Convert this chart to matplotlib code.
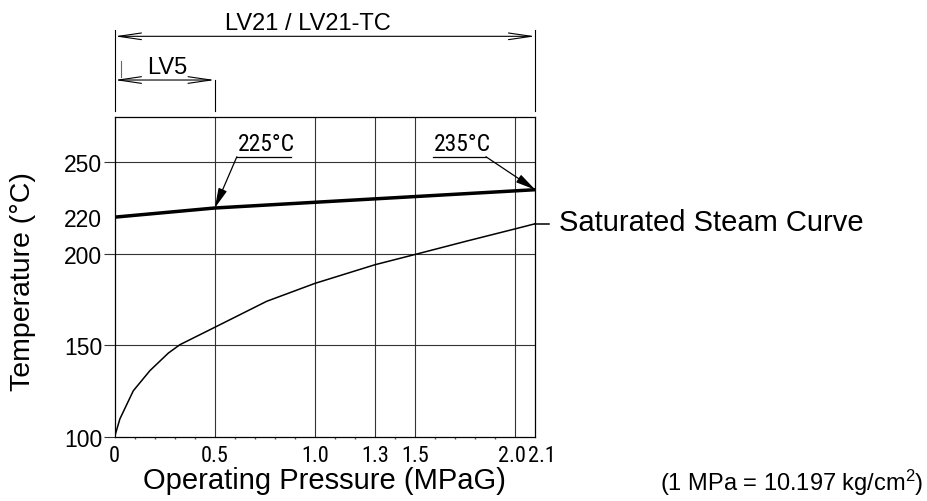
import matplotlib.pyplot as plt
from matplotlib import font_manager
from matplotlib.font_manager import FontProperties
from matplotlib.ticker import MultipleLocator
from matplotlib.transforms import ScaledTranslation

plt.rcParams['font.family'] = ['Liberation Sans', 'DejaVu Sans']
plt.rcParams['mathtext.fontset'] = 'custom'
plt.rcParams['mathtext.rm'] = 'Liberation Sans'
plt.rcParams['mathtext.it'] = 'Liberation Sans'

# saturated steam curve (MPaG, degC)
steam_p = [0, 0.026, 0.093, 0.176, 0.268, 0.326, 0.5, 0.759, 1.0, 1.3, 1.5, 1.75, 2.0, 2.1]
steam_t = [100, 109.7, 125.1, 136.1, 145.7, 150.3, 159.8, 174, 183.8, 194, 199.6, 206.7, 213.6, 216.4]

# max temperature line
limit_p = [0, 0.5, 2.1]
limit_t = [220, 225, 235]

x_ticks = [0, 0.5, 1.0, 1.3, 1.5, 2.0, 2.1]
x_labels = ['0', '0.5', '1.0', '1.3', '1.5', '2.0', '2.1']
y_ticks = [100, 150, 200, 220, 250]
y_grid = [150, 200, 250]

lv5_max = 0.5
lv21_max = 2.1


# look for a narrow font for the CAD-style numbers
def find_narrow():
    fonts = [f for f in font_manager.fontManager.ttflist
             if f.style == 'normal' and f.weight in (400, 'normal', 'regular')]
    for want in ['Liberation Sans Narrow', 'Roboto Condensed', 'Open Sans Condensed',
                 'Noto Sans Condensed', 'DejaVu Sans Condensed']:
        for f in fonts:
            if f.name == want:
                return f.fname
    for f in fonts:
        if 'Condensed' in f.name or 'Narrow' in f.name:
            return f.fname
    for f in fonts:
        if f.stretch == 'condensed' and f.name in ('Noto Sans', 'DejaVu Sans', 'Roboto', 'Open Sans'):
            return f.fname
    return None


narrow_file = find_narrow()


def narrow(size):
    if narrow_file:
        return FontProperties(fname=narrow_file, size=size)
    return FontProperties(family='Liberation Sans', size=size * 0.8)


fig = plt.figure(figsize=(9.27, 5.02), dpi=100)
ax = fig.add_axes([0.1237, 0.1281, 0.4537, 0.6378])

ax.set_xlim(0, 2.1)
ax.set_ylim(100, 275)

for x in x_ticks[1:-1]:
    ax.axvline(x, color='#333333', lw=0.8, zorder=1)
for y in y_grid:
    ax.axhline(y, color='#333333', lw=0.8, zorder=1)

ax.plot(steam_p, steam_t, color='black', lw=1.1, zorder=3)
ax.plot(limit_p, limit_t, color='black', lw=2.5, zorder=3, solid_capstyle='butt')

for s in ax.spines.values():
    s.set_linewidth(0.9)

ax.set_xticks(x_ticks)
ax.set_xticklabels(x_labels)
for lab in ax.get_xticklabels():
    lab.set_fontproperties(narrow(16))
ax.xaxis.set_minor_locator(MultipleLocator(0.1))
ax.tick_params(axis='x', which='major', length=0, pad=6)
ax.tick_params(axis='x', which='minor', length=1.5, width=1, color='#555555')
# nudge the last two labels apart like the drawing
xl = ax.get_xticklabels()
xl[-2].set_transform(xl[-2].get_transform() + ScaledTranslation(-3 / 100, 0, fig.dpi_scale_trans))
xl[-1].set_transform(xl[-1].get_transform() + ScaledTranslation(7 / 100, 0, fig.dpi_scale_trans))

ax.set_yticks(y_ticks)
ax.set_yticklabels([str(v) for v in y_ticks], fontsize=16.5)
ax.tick_params(axis='y', which='major', length=8, width=0.8, pad=1, color='#333333')
ax.yaxis.get_major_ticks()[3].tick1line.set_visible(False)

ax.text(-0.219, 0.487, 'Temperature (°C)', transform=ax.transAxes, rotation=90,
        ha='center', va='center', fontsize=20.5)
ax.text(0.4976, -0.136, 'Operating Pressure (MPaG)', transform=ax.transAxes,
        ha='center', va='center', fontsize=21)

# point labels with leaders
head = dict(arrowstyle='-|>,head_length=0.8,head_width=0.18', color='black',
            lw=0.9, shrinkA=0, shrinkB=0, mutation_scale=15)
ax.annotate('', xy=(limit_p[1], limit_t[1]), xytext=(0.61, 253), arrowprops=head, zorder=4)
ax.plot([0.61, 0.88], [253, 253], color='black', lw=0.9, clip_on=False)
ax.text(0.615, 254, '225°C', fontproperties=narrow(17), ha='left', va='bottom')

ax.annotate('', xy=(limit_p[2], limit_t[2]), xytext=(1.854, 253), arrowprops=head,
            annotation_clip=False, zorder=4)
ax.plot([1.59, 1.854], [253, 253], color='black', lw=0.9, clip_on=False)
ax.text(1.595, 254, '235°C', fontproperties=narrow(17), ha='left', va='bottom')

# steam curve label
ax.plot([steam_p[-1], 2.168], [steam_t[-1], steam_t[-1]], color='black', lw=1.1, clip_on=False)
ax.text(2.218, 217.5, 'Saturated Steam Curve', fontsize=21, ha='left', va='center')

# dimension lines on top
tr = ax.get_xaxis_transform()
for x in [0, lv21_max]:
    ax.plot([x, x], [1.018, 1.269], transform=tr, color='black', lw=0.8, clip_on=False)
ax.plot([lv5_max, lv5_max], [1.018, 1.114], transform=tr, color='black', lw=0.8, clip_on=False)
ax.plot([0.03, 0.03], [1.124, 1.174], transform=tr, color='#666666', lw=0.8, clip_on=False)

arrow = dict(arrowstyle='<->,head_length=1.1,head_width=0.16', color='black', lw=0.8,
             shrinkA=0, shrinkB=0, mutation_scale=15)
ax.annotate('', xy=(0, 1.2505), xytext=(lv21_max, 1.2505), xycoords=tr, arrowprops=arrow,
            annotation_clip=False)
ax.annotate('', xy=(0, 1.114), xytext=(lv5_max, 1.114), xycoords=tr, arrowprops=arrow,
            annotation_clip=False)
ax.text(0.967, 1.292, 'LV21 / LV21-TC', transform=tr, fontsize=17, ha='center', va='center')
ax.text(0.264, 1.154, 'LV5', transform=tr, fontsize=17, ha='center', va='center')

fig.text(0.9957, 0.0378, r'(1 MPa = 10.197 kg/cm$^2$)', fontsize=17, ha='right', va='center')

fig.savefig('out.png', dpi=100)
